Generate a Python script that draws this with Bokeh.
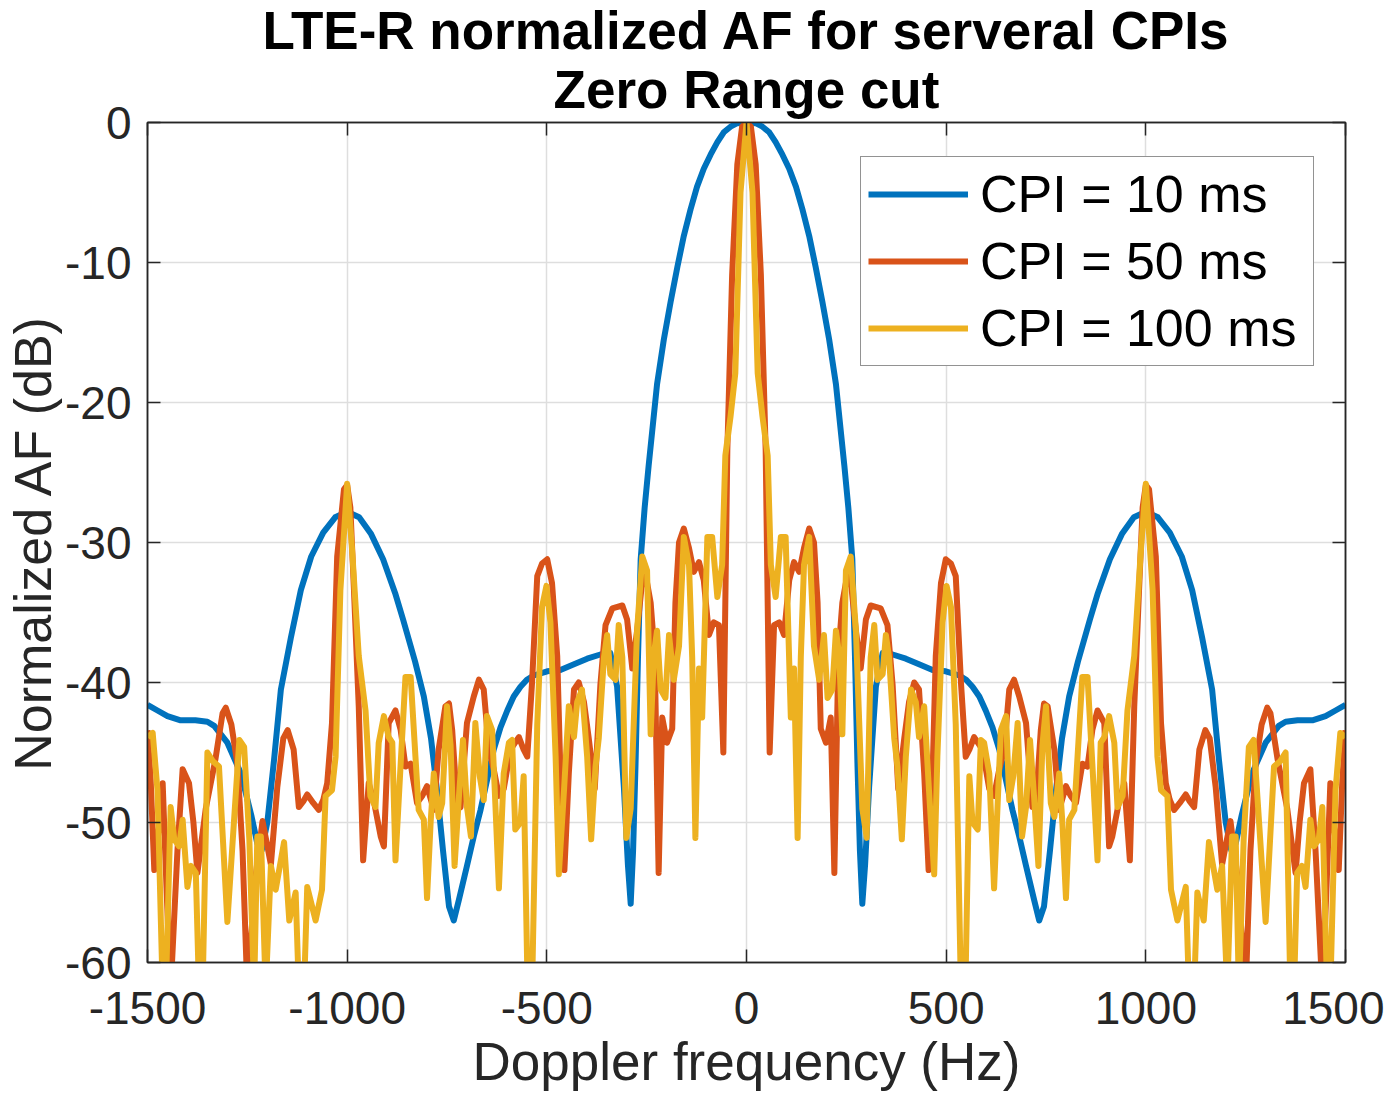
from bokeh.plotting import figure
from bokeh.models import Range1d, FixedTicker, LinearAxis, Legend, LegendItem, Title, ColumnDataSource
from bokeh.embed import file_html
from bokeh.resources import INLINE

# ---------------- data ----------------
freq_10ms = [-1500, -1475, -1450, -1417, -1380, -1350, -1333, -1300, -1266, -1240, -1225, -1214, -1200,
             -1183, -1166, -1141, -1116, -1090, -1060, -1030, -1000, -970, -940, -910, -880, -860, -830,
             -808, -790, -775, -760, -745, -733, -720, -700, -683, -666, -650, -633, -616, -599, -583,
             -566, -550, -533, -499, -466, -432, -399, -366, -341, -324, -307, -297, -290, -284, -278,
             -272, -265, -255, -245, -224, -207, -190, -173, -157, -140, -124, -107, -90, -73, -57, -40,
             -23, 0,
             23, 40, 57, 73, 90, 107, 124, 140, 157, 173, 190, 207, 224, 245, 255, 265, 272, 278, 284,
             290, 297, 307, 324, 341, 366, 399, 432, 466, 499, 533, 550, 566, 583, 599, 616, 633, 650,
             666, 683, 700, 720, 733, 745, 760, 775, 790, 808, 830, 860, 880, 910, 940, 970, 1000, 1030,
             1060, 1090, 1116, 1141, 1166, 1183, 1200, 1214, 1225, 1240, 1266, 1300, 1333, 1350, 1380,
             1417, 1450, 1475, 1500]
af_10ms = [-41.6, -42.0, -42.4, -42.7, -42.7, -42.8, -43.1, -44.3, -46.5, -49.5, -51.5, -52.0, -50.0,
           -45.5, -40.5, -36.8, -33.4, -31.0, -29.3, -28.2, -27.8, -28.2, -29.4, -31.2, -33.6, -35.5, -38.5,
           -41.0, -44.0, -47.7, -52.0, -56.0, -57.0, -55.5, -53.1, -51.0, -49.1, -47.0, -44.8, -43.2, -42.0, -41.0,
           -40.3, -39.8, -39.5, -39.2, -39.1, -38.7, -38.3, -38.0, -37.9, -40.3, -47.5, -53.0, -55.8, -52.0, -46.0,
           -38.5, -31.2, -27.5, -24.5, -18.7, -15.5, -12.8, -10.3, -8.1, -6.2, -4.6, -3.3, -2.3, -1.4, -0.7, -0.3,
           -0.05, 0.0,
           -0.05, -0.3, -0.7, -1.4, -2.3, -3.3, -4.6, -6.2, -8.1, -10.3, -12.8, -15.5, -18.7, -24.5, -27.5, -31.2,
           -38.5, -46.0, -52.0, -55.8, -53.0, -47.5, -40.3, -37.9, -38.0, -38.3, -38.7, -39.1, -39.2, -39.5, -39.8,
           -40.3, -41.0, -42.0, -43.2, -44.8, -47.0, -49.1, -51.0, -53.1, -55.5, -57.0, -56.0, -52.0, -47.7, -44.0,
           -41.0, -38.5, -35.5, -33.6, -31.2, -29.4, -28.2, -27.8, -28.2, -29.3, -31.0, -33.4, -36.8, -40.5, -45.5,
           -50.0, -52.0, -51.5, -49.5, -46.5, -44.3, -43.1, -42.8, -42.7, -42.7, -42.4, -42.0, -41.6]

freq_50ms = [-1500, -1492, -1483, -1470, -1462, -1452, -1442, -1425, -1412, -1396, -1385, -1375, -1354,
             -1330, -1312, -1304, -1290, -1275, -1262, -1250, -1230, -1212, -1191, -1175, -1160, -1149,
             -1134, -1121, -1110, -1100, -1085, -1071, -1060, -1050, -1038, -1025, -1008, -1000, -992,
             -983, -971, -960, -946, -933, -916, -908, -896, -879, -866, -854, -841, -825, -812, -800,
             -783, -771, -754, -745, -737, -725, -716, -700, -683, -670, -658, -645, -633, -620, -608,
             -591, -570, -558, -549, -537, -524, -512, -499, -487, -474, -466, -456, -445, -432, -420,
             -407, -395, -380, -366, -353, -336, -311, -299, -286, -274, -257, -240, -230, -220, -211,
             -199, -186, -178, -169, -157, -144, -132, -119, -107, -94, -82, -69, -58, -48, -36, -23,
             -11, 0,
             11, 23, 36, 48, 58, 69, 82, 94, 107, 119, 132, 144, 157, 169, 178, 186, 199, 211, 220, 230,
             240, 257, 274, 286, 299, 311, 336, 353, 366, 380, 395, 407, 420, 432, 445, 456, 466, 474,
             487, 499, 512, 524, 537, 549, 558, 570, 591, 608, 620, 633, 645, 658, 670, 683, 700, 716,
             725, 737, 745, 754, 771, 783, 800, 812, 825, 841, 854, 866, 879, 896, 908, 916, 933, 946,
             960, 971, 983, 992, 1000, 1008, 1025, 1038, 1050, 1060, 1071, 1085, 1100, 1110, 1121, 1134,
             1149, 1160, 1175, 1191, 1212, 1230, 1250, 1262, 1275, 1290, 1304, 1312, 1330, 1354, 1375,
             1385, 1396, 1412, 1425, 1442, 1452, 1462, 1470, 1483, 1492, 1500]
af_50ms = [-43.4, -47.0, -53.4, -50.0, -47.2, -55.0, -62.0, -52.0, -46.2, -47.2, -50.0, -53.6, -49.0,
           -45.5, -42.2, -41.8, -43.0, -45.8, -52.0, -62.0, -54.0, -49.9, -53.0, -47.5, -44.0, -43.4,
           -44.8, -48.9, -48.5, -48.0, -48.6, -49.1, -48.4, -47.2, -42.9, -31.0, -26.2, -25.9, -27.5,
           -33.4, -41.7, -52.7, -47.2, -48.5, -51.0, -51.7, -42.9, -42.0, -43.4, -46.0, -45.8, -48.6, -48.1, -47.4,
           -49.1, -44.8, -41.7, -41.5, -43.4, -48.6, -48.9, -42.9, -41.0, -39.8, -40.5, -44.8, -46.2, -48.1, -47.6,
           -44.8, -43.9, -44.8, -45.3, -40.0, -32.4, -31.5, -31.2, -32.9, -38.1, -46.5, -53.4, -46.5, -40.5, -40.0,
           -41.4, -44.0, -47.6, -40.2, -35.9, -34.7, -34.5, -35.5, -39.0, -36.3, -31.6, -34.3, -38.0, -53.6, -42.5,
           -44.3, -43.3, -34.3, -30.0, -29.0, -30.4, -32.1, -31.4, -32.7, -36.6, -35.7, -35.9, -45.0, -23.4, -10.9, -3.0,
           -0.3, 0.0,
           -0.3, -3.0, -10.9, -23.4, -45.0, -35.9, -35.7, -36.6, -32.7, -31.4, -32.1, -30.4, -29.0, -30.0, -34.3,
           -43.3, -44.3, -42.5, -53.6, -38.0, -34.3, -31.6, -36.3, -39.0, -35.5, -34.5, -34.7, -35.9, -40.2, -47.6,
           -44.0, -41.4, -40.0, -40.5, -46.5, -53.4, -46.5, -38.1, -32.9, -31.2, -31.5, -32.4, -40.0, -45.3, -44.8,
           -43.9, -44.8, -47.6, -48.1, -46.2, -44.8, -40.5, -39.8, -41.0, -42.9, -48.9, -48.6, -43.4, -41.5, -41.7,
           -44.8, -49.1, -47.4, -48.1, -48.6, -45.8, -46.0, -43.4, -42.0, -42.9, -51.7, -51.0, -48.5, -47.2, -52.7,
           -41.7, -33.4, -27.5, -25.9, -26.2, -31.0, -42.9, -47.2, -48.4, -49.1, -48.6, -48.0, -48.5, -48.9, -44.8,
           -43.4, -44.0, -47.5, -53.0, -49.9, -54.0, -62.0, -52.0, -45.8, -43.0, -41.8, -42.2, -45.5, -49.0, -53.6,
           -50.0, -47.2, -46.2, -52.0, -62.0, -55.0, -47.2, -50.0, -53.4, -47.0, -43.4]

freq_100ms = [-1500, -1487, -1475, -1462, -1454, -1442, -1433, -1421, -1412, -1400, -1391, -1379, -1371,
              -1362, -1350, -1337, -1321, -1300, -1270, -1258, -1245, -1233, -1225, -1216, -1204, -1191,
              -1179, -1158, -1145, -1129, -1121, -1108, -1100, -1079, -1063, -1054, -1038, -1029, -1017,
              -1000, -987, -971, -954, -942, -929, -921, -908, -896, -887, -879, -866, -854, -841, -829,
              -821, -808, -800, -791, -783, -771, -762, -750, -741, -731, -720, -710, -700, -690, -679,
              -668, -658, -650, -637, -629, -620, -608, -595, -587, -579, -566, -558, -548, -537, -524,
              -512, -501, -491, -478, -470, -457, -445, -432, -424, -412, -399, -389, -378, -370, -357,
              -349, -341, -328, -320, -311, -301, -290, -274, -261, -249, -240, -232, -224, -215, -203,
              -194, -182, -169, -157, -144, -136, -128, -119, -111, -98, -86, -73, -61, -53, -40, -28,
              -15, 0,
              15, 28, 40, 53, 61, 73, 86, 98, 111, 119, 128, 136, 144, 157, 169, 182, 194, 203, 215, 224,
              232, 240, 249, 261, 274, 290, 301, 311, 320, 328, 341, 349, 357, 370, 378, 389, 399, 412,
              424, 432, 445, 457, 470, 478, 491, 501, 512, 524, 537, 548, 558, 566, 579, 587, 595, 608,
              620, 629, 637, 650, 658, 668, 679, 690, 700, 710, 720, 731, 741, 750, 762, 771, 783, 791,
              800, 808, 821, 829, 841, 854, 866, 879, 887, 896, 908, 921, 929, 942, 954, 971, 987, 1000,
              1017, 1029, 1038, 1054, 1063, 1079, 1100, 1108, 1121, 1129, 1145, 1158, 1179, 1191, 1204,
              1216, 1225, 1233, 1245, 1258, 1270, 1300, 1321, 1337, 1350, 1362, 1371, 1379, 1391, 1400,
              1412, 1421, 1433, 1442, 1454, 1462, 1475, 1487, 1500]
af_100ms = [-43.9, -43.6, -47.7, -62.0, -62.0, -48.9, -51.2, -51.7, -49.8, -54.6, -53.1, -53.6, -62.0,
            -62.0, -45.0, -45.6, -46.0, -57.1, -44.1, -44.6, -51.2, -62.0, -51.0, -51.0, -62.0, -53.1,
            -54.8, -51.4, -57.0, -55.0, -62.0, -62.0, -54.6, -57.0, -54.8, -48.1, -47.7, -45.3, -33.4,
            -25.8, -30.8, -38.1, -42.0, -48.1, -48.9, -44.3, -42.4, -43.9, -44.3, -52.7, -45.8, -39.6, -39.6, -45.3,
            -49.1, -49.8, -55.4, -50.0, -46.5, -49.6, -48.6, -41.7, -44.5, -53.1, -48.1, -44.1, -48.9, -51.0, -42.9,
            -46.7, -48.4, -42.4, -43.4, -48.6, -54.7, -46.5, -44.3, -44.1, -50.5, -50.0, -46.7, -62.0, -62.0, -43.0,
            -34.6, -33.1, -35.7, -45.3, -53.7, -47.7, -41.7, -43.9, -41.4, -40.5, -45.3, -51.2, -46.0, -44.0, -38.2,
            -36.6, -39.4, -39.8, -35.9, -38.2, -51.1, -49.0, -36.3, -31.0, -32.0, -43.7, -38.0, -36.3, -40.5, -41.1,
            -36.6, -39.8, -37.4, -29.6, -31.6, -38.2, -51.1, -39.0, -42.5, -29.6, -29.6, -33.9, -31.6, -23.8, -21.0, -17.9,
            -5.0, 0.0,
            -5.0, -17.9, -21.0, -23.8, -31.6, -33.9, -29.6, -29.6, -42.5, -39.0, -51.1, -38.2, -31.6, -29.6, -37.4,
            -39.8, -36.6, -41.1, -40.5, -36.3, -38.0, -43.7, -32.0, -31.0, -36.3, -49.0, -51.1, -38.2, -35.9, -39.8,
            -39.4, -36.6, -38.2, -44.0, -46.0, -51.2, -45.3, -40.5, -41.4, -43.9, -41.7, -47.7, -53.7, -45.3, -35.7,
            -33.1, -34.6, -43.0, -62.0, -62.0, -46.7, -50.0, -50.5, -44.1, -44.3, -46.5, -54.7, -48.6, -43.4, -42.4,
            -48.4, -46.7, -42.9, -51.0, -48.9, -44.1, -48.1, -53.1, -44.5, -41.7, -48.6, -49.6, -46.5, -50.0, -55.4,
            -49.8, -49.1, -45.3, -39.6, -39.6, -45.8, -52.7, -44.3, -43.9, -42.4, -44.3, -48.9, -48.1, -42.0, -38.1,
            -30.8, -25.8, -33.4, -45.3, -47.7, -48.1, -54.8, -57.0, -54.6, -62.0, -62.0, -55.0, -57.0, -51.4, -54.8,
            -53.1, -62.0, -51.0, -51.0, -62.0, -51.2, -44.6, -44.1, -57.1, -46.0, -45.6, -45.0, -62.0, -62.0, -53.6,
            -53.1, -54.6, -49.8, -51.7, -51.2, -48.9, -62.0, -62.0, -47.7, -43.6, -43.9]

series_labels = ["CPI = 10 ms", "CPI = 50 ms", "CPI = 100 ms"]
x_ticks = [-1500, -1000, -500, 0, 500, 1000, 1500]
x_tick_labels = ["-1500", "-1000", "-500", "0", "500", "1000", "1500"]
y_ticks = [-60, -50, -40, -30, -20, -10, 0]
y_tick_labels = ["-60", "-50", "-40", "-30", "-20", "-10", "0"]
title_line1 = "LTE-R normalized AF for serveral CPIs"
title_line2 = "Zero Range cut"
x_label = "Doppler frequency (Hz)"
y_label = "Normalized AF (dB)"

# ---------------- styling ----------------
FONT = "Liberation Sans"
AX_COLOR = "#262626"
colors = ["#0072BD", "#D95319", "#EDB120"]

p = figure(width=1384, height=1093, x_range=Range1d(x_ticks[0], x_ticks[-1]),
           y_range=Range1d(y_ticks[0], y_ticks[-1]),
           output_backend="svg", toolbar_location=None, title=None,
           min_border_left=147, min_border_right=39, min_border_top=122, min_border_bottom=130)
p.background_fill_color = "white"
p.border_fill_color = "white"
p.outline_line_color = AX_COLOR
p.outline_line_width = 1.5

for g in (p.xgrid, p.ygrid):
    g.grid_line_color = "#dedede"
    g.grid_line_width = 1.5
p.xgrid.ticker = FixedTicker(ticks=x_ticks)
p.ygrid.ticker = FixedTicker(ticks=y_ticks)

def style_axis(ax, ticks, labels, show_labels=True):
    ax.ticker = FixedTicker(ticks=ticks)
    ax.major_label_overrides = {t: l for t, l in zip(ticks, labels)}
    ax.minor_tick_line_color = None
    ax.major_tick_in = 13
    ax.major_tick_out = 0
    ax.major_tick_line_color = AX_COLOR
    ax.major_tick_line_width = 1.5
    ax.axis_line_color = AX_COLOR
    ax.axis_line_width = 1.5
    ax.major_label_text_font = FONT
    ax.major_label_text_color = AX_COLOR
    if show_labels:
        ax.major_label_text_font_size = "46px"
    else:
        ax.major_label_text_font_size = "0px"
        ax.major_label_standoff = 0

xa = p.xaxis[0]
ya = p.yaxis[0]
style_axis(xa, x_ticks, x_tick_labels)
style_axis(ya, y_ticks, y_tick_labels)
xa.major_label_standoff = 29
ya.major_label_standoff = 16
xa.axis_label = x_label
ya.axis_label = y_label
for ax in (xa, ya):
    ax.axis_label_text_font = FONT
    ax.axis_label_text_font_style = "normal"
    ax.axis_label_text_color = AX_COLOR
xa.axis_label_text_font_size = "53px"
ya.axis_label_text_font_size = "52px"
xa.axis_label_standoff = 5
ya.axis_label_standoff = 0

top_ax = LinearAxis()
right_ax = LinearAxis()
style_axis(top_ax, x_ticks, ["" for _ in x_ticks], show_labels=False)
style_axis(right_ax, y_ticks, ["" for _ in y_ticks], show_labels=False)
p.add_layout(top_ax, "above")
p.add_layout(right_ax, "right")

# two-line title: the second line sits next to the plot, the first one above it
p.add_layout(Title(text=title_line2, align="center", vertical_align="top", text_font=FONT,
                   text_font_size="53px", text_font_style="bold", text_color="black",
                   standoff=4, offset=0), "above")
p.add_layout(Title(text=title_line1, align="center", vertical_align="bottom", text_font=FONT,
                   text_font_size="53px", text_font_style="bold", text_color="black",
                   standoff=-4, offset=0), "above")

renderers = []
for fx, fy, c in ((freq_10ms, af_10ms, colors[0]), (freq_50ms, af_50ms, colors[1]),
                  (freq_100ms, af_100ms, colors[2])):
    src = ColumnDataSource(dict(x=fx, y=fy))
    r = p.line("x", "y", source=src, line_color=c, line_width=6, line_join="round")
    renderers.append(r)

legend = Legend(items=[LegendItem(label=lab, renderers=[r]) for lab, r in zip(series_labels, renderers)],
                location=(713, 596), orientation="vertical",
                label_text_font=FONT, label_text_font_size="52px", label_text_color="black",
                glyph_width=100, glyph_height=60, label_height=60, label_width=326, label_standoff=12,
                padding=7, spacing=7, margin=0,
                border_line_color=AX_COLOR, border_line_width=1.5,
                background_fill_color="white", background_fill_alpha=1.0)
p.add_layout(legend)

open("out.html", "w").write(file_html(p, INLINE))
